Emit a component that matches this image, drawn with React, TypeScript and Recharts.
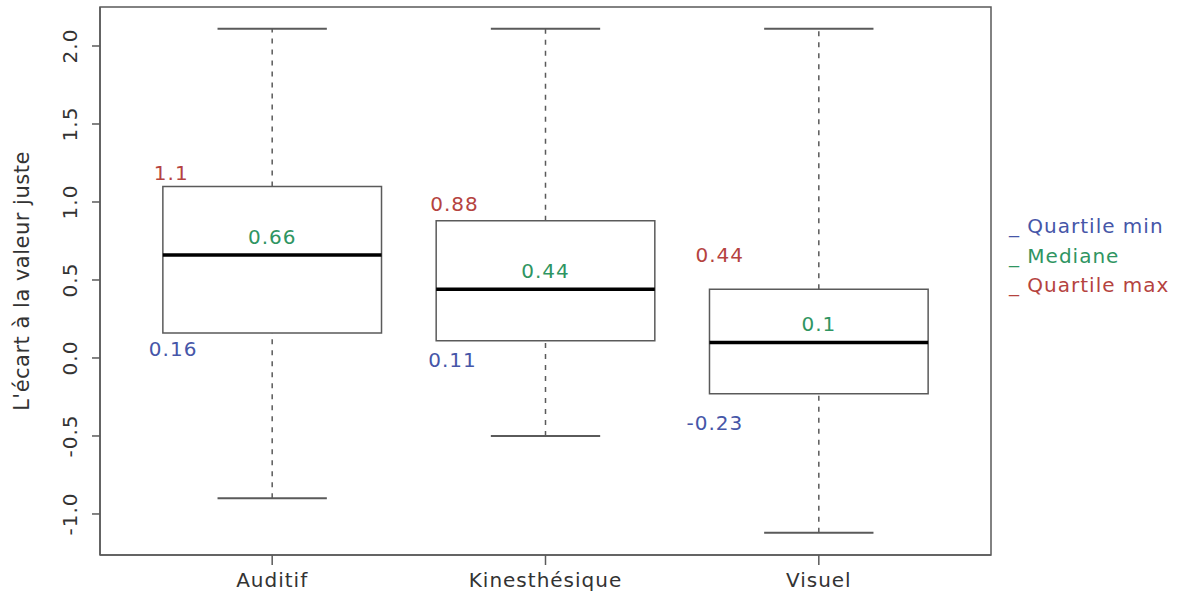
import React from 'react';
import {
    ComposedChart, Scatter, XAxis, YAxis, ReferenceArea, ReferenceLine, ReferenceDot
} from 'recharts';

const CATEGORIES = ['Auditif', 'Kinesthésique', 'Visuel'];
const MIN_VALUES = [-0.9, -0.5, -1.12];
const Q1_VALUES = [0.16, 0.11, -0.23];
const MEDIAN_VALUES = [0.66, 0.44, 0.1];
const Q3_VALUES = [1.1, 0.88, 0.44];
const MAX_VALUES = [2.11, 2.11, 2.11];
const Y_TICKS = [-1, -0.5, 0, 0.5, 1, 1.5, 2];
const X_TICKS = [1, 2, 3];

const LEGEND_ITEMS = [
    { label: 'Quartile min', color: '#4656a8' },
    { label: 'Mediane', color: '#2f9562' },
    { label: 'Quartile max', color: '#b5433f' },
];

const FONT = '"DejaVu Sans", Verdana, sans-serif';
const BLUE = '#4656a8';
const GREEN = '#2f9562';
const RED = '#b5433f';
const GRAY = '#5a5a5a';
const BOX_HALF = 0.4;
const CAP_HALF = 0.2;
const X_DOMAIN = [0.37, 3.63];
const Y_DOMAIN = [-1.263, 2.25];

// pixel nudges for the value labels (dx from box left edge, dy from the box edge)
const Q3_NUDGE = [[-9, -6], [-6, -10], [-14, -27]];
const Q1_NUDGE = [[-14, 23], [-8, 26], [-23, 36]];

const rows = CATEGORIES.map((name, i) => ({
    x: i + 1,
    name,
    min: MIN_VALUES[i],
    q1: Q1_VALUES[i],
    median: MEDIAN_VALUES[i],
    q3: Q3_VALUES[i],
    max: MAX_VALUES[i],
}));

const textStyle = { fontFamily: FONT, fontSize: 20, letterSpacing: 1 };

const YTick = ({ x, y, payload }: any) => (
    <text
        transform={`translate(${x - 13}, ${y}) rotate(-90)`}
        textAnchor="middle"
        fill="#333"
        style={textStyle}
    >
        {payload.value.toFixed(1)}
    </text>
);

const XTick = ({ x, y, payload }: any) => (
    <text x={x} y={y + 20} textAnchor="middle" fill="#333" style={textStyle}>
        {CATEGORIES[payload.value - 1]}
    </text>
);

const valueLabel = (text: string, color: string, dx: number, dy: number, anchor: string) =>
    (props: any) => {
        const vb = props.viewBox;
        return (
            <text x={vb.x + dx} y={vb.y + dy} textAnchor={anchor} fill={color} style={textStyle}>
                {text}
            </text>
        );
    };

const LegendBox = () => (
    <div
        style={{
            position: 'absolute', left: 1009, top: 212, width: 180,
            fontFamily: FONT, fontSize: 20, letterSpacing: 1, lineHeight: '29.5px',
        }}
    >
        {LEGEND_ITEMS.map((item) => (
            <div key={item.label} style={{ color: item.color, whiteSpace: 'nowrap' }}>
                _ {item.label}
            </div>
        ))}
    </div>
);

export default function App() {
    return (
        <div style={{ position: 'absolute', left: 0, top: 0, width: 1189, height: 604, background: '#fff' }}>
            <ComposedChart
                width={1189}
                height={604}
                data={rows}
                margin={{ top: 7, right: 198, bottom: 0, left: 0 }}
            >
                <XAxis
                    dataKey="x"
                    type="number"
                    domain={X_DOMAIN}
                    ticks={X_TICKS}
                    allowDataOverflow
                    height={49}
                    tickSize={10}
                    tick={<XTick />}
                    stroke={GRAY}
                    axisLine={{ stroke: GRAY, strokeWidth: 1.5 }}
                    tickLine={{ stroke: GRAY, strokeWidth: 1.5 }}
                />
                <YAxis
                    type="number"
                    domain={Y_DOMAIN}
                    ticks={Y_TICKS}
                    allowDataOverflow
                    width={100}
                    tickSize={8}
                    tickMargin={2}
                    tick={<YTick />}
                    stroke={GRAY}
                    axisLine={{ stroke: GRAY, strokeWidth: 1.5 }}
                    tickLine={{ stroke: GRAY, strokeWidth: 1.5 }}
                    label={{
                        value: "L'écart à la valeur juste",
                        angle: -90,
                        position: 'insideLeft',
                        offset: 22,
                        style: { ...textStyle, fontSize: 21, letterSpacing: 0.5, textAnchor: 'middle', fill: '#333' },
                    }}
                />

                {/* plot frame */}
                <ReferenceArea
                    x1={X_DOMAIN[0]} x2={X_DOMAIN[1]} y1={Y_DOMAIN[0]} y2={Y_DOMAIN[1]}
                    fill="none" stroke={GRAY} strokeWidth={1.5} ifOverflow="visible"
                />

                {rows.map((r) => (
                    <React.Fragment key={r.name}>
                        <ReferenceLine
                            segment={[{ x: r.x, y: r.q3 }, { x: r.x, y: r.max }]}
                            stroke={GRAY} strokeWidth={1.5} strokeDasharray="5 6"
                        />
                        <ReferenceLine
                            segment={[{ x: r.x, y: r.min }, { x: r.x, y: r.q1 }]}
                            stroke={GRAY} strokeWidth={1.5} strokeDasharray="5 6"
                        />
                        <ReferenceLine
                            segment={[{ x: r.x - CAP_HALF, y: r.max }, { x: r.x + CAP_HALF, y: r.max }]}
                            stroke={GRAY} strokeWidth={2}
                        />
                        <ReferenceLine
                            segment={[{ x: r.x - CAP_HALF, y: r.min }, { x: r.x + CAP_HALF, y: r.min }]}
                            stroke={GRAY} strokeWidth={2}
                        />
                        <ReferenceArea
                            x1={r.x - BOX_HALF} x2={r.x + BOX_HALF} y1={r.q1} y2={r.q3}
                            fill="#fff" fillOpacity={1} stroke={GRAY} strokeWidth={1.5}
                        />
                        <ReferenceLine
                            segment={[{ x: r.x - BOX_HALF, y: r.median }, { x: r.x + BOX_HALF, y: r.median }]}
                            stroke="#000" strokeWidth={3.5}
                        />
                    </React.Fragment>
                ))}

                <Scatter dataKey="median" shape={() => <g />} isAnimationActive={false} />

                {rows.map((r, i) => (
                    <ReferenceDot
                        key={`q3-${r.name}`} x={r.x - BOX_HALF} y={r.q3} r={0} stroke="none" fill="none"
                        label={{ content: valueLabel(String(r.q3), RED, Q3_NUDGE[i][0], Q3_NUDGE[i][1], 'start') }}
                    />
                ))}
                {rows.map((r, i) => (
                    <ReferenceDot
                        key={`q1-${r.name}`} x={r.x - BOX_HALF} y={r.q1} r={0} stroke="none" fill="none"
                        label={{ content: valueLabel(String(r.q1), BLUE, Q1_NUDGE[i][0], Q1_NUDGE[i][1], 'start') }}
                    />
                ))}
                {rows.map((r) => (
                    <ReferenceDot
                        key={`md-${r.name}`} x={r.x} y={r.median} r={0} stroke="none" fill="none"
                        label={{ content: valueLabel(String(r.median), GREEN, 0, -11, 'middle') }}
                    />
                ))}
            </ComposedChart>
            <LegendBox />
        </div>
    );
}
